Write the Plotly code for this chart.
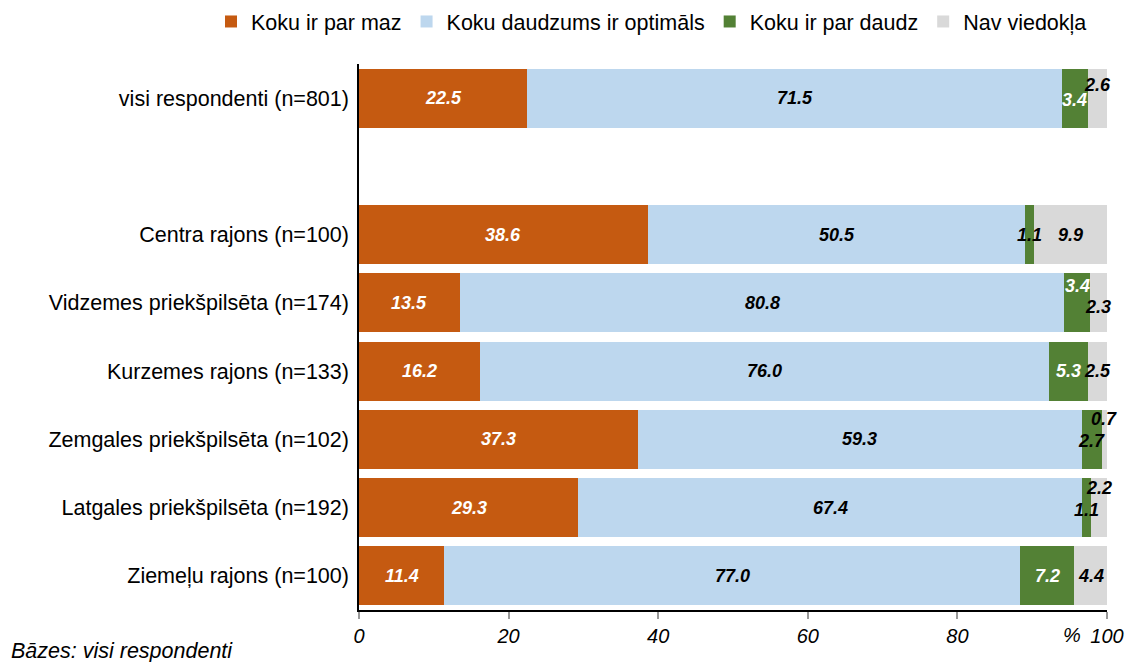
import plotly.graph_objects as go

# ---- data ----
categories = [
    "visi respondenti (n=801)",
    "Centra rajons (n=100)",
    "Vidzemes priekšpilsēta (n=174)",
    "Kurzemes rajons (n=133)",
    "Zemgales priekšpilsēta (n=102)",
    "Latgales priekšpilsēta (n=192)",
    "Ziemeļu rajons (n=100)",
]
series_names = [
    "Koku ir par maz",
    "Koku daudzums ir optimāls",
    "Koku ir par daudz",
    "Nav viedokļa",
]
too_few = [22.5, 38.6, 13.5, 16.2, 37.3, 29.3, 11.4]
optimal = [71.5, 50.5, 80.8, 76.0, 59.3, 67.4, 77.0]
too_many = [3.4, 1.1, 3.4, 5.3, 2.7, 1.1, 7.2]
no_opinion = [2.6, 9.9, 2.3, 2.5, 0.7, 2.2, 4.4]
x_ticks = [0, 20, 40, 60, 80, 100]
footnote = "Bāzes: visi respondenti"

# ---- layout helpers ----
W, H = 1129, 662
ML, MR, MT, MB = 359, 22, 64, 52
PW, PH = W - ML - MR, H - MT - MB
row_pos = [0, 2, 3, 4, 5, 6, 7]  # blank row between total and districts
colors = ["#C55A11", "#BDD7EE", "#538135", "#D9D9D9"]
# vertical nudges (px) for crowded labels: (row, series) -> shift
label_yshift = {(0, 2): -2, (0, 3): 13, (2, 2): 17, (2, 3): -4,
                (4, 3): 20, (4, 2): -2, (5, 3): 20, (5, 2): -2}

series = [too_few, optimal, too_many, no_opinion]
FONT = "Liberation Sans, Arial, sans-serif"

fig = go.Figure()
for name, vals, col in zip(series_names, series, colors):
    fig.add_trace(go.Bar(
        name=name, x=vals, y=row_pos, orientation="h",
        marker=dict(color=col, line=dict(width=0)),
        width=0.865, hoverinfo="x+name",
    ))

annotations = []
for r, y in enumerate(row_pos):
    start = 0.0
    for s, vals in enumerate(series):
        v = vals[r]
        white = (s == 0) or (s == 2 and v >= 3)
        annotations.append(dict(
            x=start + v / 2, y=y, xref="x", yref="y",
            text=f"<b><i>{v:.1f}</i></b>", showarrow=False,
            font=dict(family=FONT, size=18, color="white" if white else "black"),
            yshift=label_yshift.get((r, s), 0),
        ))
        start += v

annotations.append(dict(
    x=95.3, y=0, xref="x", yref="paper", yshift=-25, yanchor="middle",
    text="<i>%</i>", showarrow=False, font=dict(family=FONT, size=20, color="black"),
))
annotations.append(dict(
    x=(9 - ML) / PW, y=-(651 - (H - MB)) / PH, xref="paper", yref="paper",
    xanchor="left", yanchor="middle",
    text=f"<i>{footnote}</i>", showarrow=False, font=dict(family=FONT, size=21.5, color="black"),
))

fig.update_layout(
    barmode="stack",
    width=W, height=H,
    margin=dict(l=ML, r=MR, t=MT, b=MB, autoexpand=False),
    paper_bgcolor="white", plot_bgcolor="white",
    font=dict(family=FONT, color="black"),
    annotations=annotations,
    legend=dict(
        orientation="h", xref="paper", yref="paper",
        x=(211 - ML) / PW, xanchor="left", y=1 + 63 / PH, yanchor="top",
        font=dict(family=FONT, size=21.5, color="black"),
        itemwidth=30, traceorder="normal", bgcolor="rgba(0,0,0,0)",
    ),
    xaxis=dict(
        range=[0, 100], tickvals=x_ticks, showgrid=False, zeroline=False,
        showline=True, linecolor="black", linewidth=1.5, automargin=False,
        ticks="outside", ticklen=7, tickwidth=2, tickcolor="#999999",
        tickfont=dict(family=FONT, size=20, color="black", style="italic"),
    ),
    yaxis=dict(
        range=[7.5, -0.5], tickvals=row_pos, ticktext=categories, automargin=False,
        showgrid=False, zeroline=False, showline=True, linecolor="black", linewidth=1.5,
        ticks="", ticklabelstandoff=4,
        tickfont=dict(family=FONT, size=21.5, color="black"),
    ),
)

fig.write_html(
    "out.html",
    config={"displayModeBar": False},
    post_script="document.body.style.margin='0';document.body.style.overflow='hidden';",
)
